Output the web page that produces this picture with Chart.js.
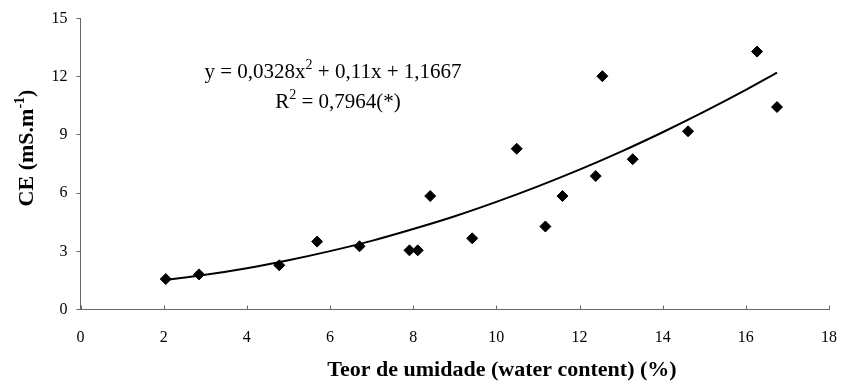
<!DOCTYPE html>
<html lang="pt-br">
<head>
<meta charset="UTF-8">
<title>CE x Teor de umidade</title>
<script src="https://cdn.jsdelivr.net/npm/chart.js"></script>
<style>
  html, body { margin: 0; padding: 0; background: #fff; }
</style>
</head>
<body>
<canvas id="grafico" width="856" height="385"></canvas>
<script>
// dados
const teorUmidade = [2.05, 2.85, 4.78, 5.69, 6.71, 7.91, 8.11, 8.41, 9.42, 10.49, 11.18, 11.59, 12.39, 12.55, 13.28, 14.61, 16.27, 16.75];
const condutividade = [1.57, 1.81, 2.28, 3.50, 3.26, 3.05, 3.05, 5.85, 3.67, 8.29, 4.28, 5.85, 6.88, 12.03, 7.75, 9.19, 13.30, 10.44];

// linha de tendência (polinomial)
const tendenciaX = [2.05, 3, 4, 5, 6, 7, 8, 9, 10, 11, 12, 13, 14, 15, 16, 16.75];
const tendenciaY = [1.53, 1.79, 2.13, 2.54, 3.01, 3.54, 4.15, 4.81, 5.55, 6.35, 7.21, 8.14, 9.14, 10.20, 11.32, 12.21];

const ticksX = [0, 2, 4, 6, 8, 10, 12, 14, 16, 18];
const ticksY = [0, 3, 6, 9, 12, 15];

const fonte = 'Liberation Serif';
const corEixo = '#666';

// pedaços de texto com sobrescrito
const equacao1 = [['y = 0,0328x'], ['2', true], [' + 0,11x + 1,1667']];
const equacao2 = [['R'], ['2', true], [' = 0,7964(*)']];
const tituloX = [['Teor de umidade (water content) (%)']];
const tituloY = [['CE (mS.m'], ['-1', true], [')']];

function textoRico(ctx, partes, cx, cy, tam, negrito) {
    const peso = negrito ? 'bold ' : '';
    const fNormal = peso + tam + 'px "' + fonte + '"';
    const fSup = peso + Math.round(tam * 0.65) + 'px "' + fonte + '"';
    let largura = 0;
    partes.forEach(p => {
        ctx.font = p[1] ? fSup : fNormal;
        largura += ctx.measureText(p[0]).width;
    });
    let x = cx - largura / 2;
    ctx.textAlign = 'left';
    ctx.textBaseline = 'alphabetic';
    const base = cy + tam * 0.33;
    partes.forEach(p => {
        ctx.font = p[1] ? fSup : fNormal;
        ctx.fillText(p[0], x, p[1] ? base - tam * 0.42 : base);
        x += ctx.measureText(p[0]).width;
    });
}

const extras = {
    id: 'extras',
    afterDraw(chart) {
        const { ctx, chartArea, scales: { x } } = chart;
        ctx.save();
        // marcas do eixo x voltadas para dentro
        ctx.strokeStyle = corEixo;
        ctx.lineWidth = 1;
        ticksX.forEach(v => {
            const px = Math.round(x.getPixelForValue(v)) + 0.5;
            ctx.beginPath();
            ctx.moveTo(px, chartArea.bottom);
            ctx.lineTo(px, chartArea.bottom - 4);
            ctx.stroke();
        });
        ctx.fillStyle = '#000';
        textoRico(ctx, equacao1, 333, 71, 21, false);
        textoRico(ctx, equacao2, 338, 101, 21, false);
        textoRico(ctx, tituloX, 502, 369, 22, true);
        ctx.translate(26, 148);
        ctx.rotate(-Math.PI / 2);
        textoRico(ctx, tituloY, 0, 0, 22, true);
        ctx.restore();
    }
};

Chart.defaults.font.family = fonte;
Chart.defaults.font.size = 16;
Chart.defaults.color = '#000';

new Chart(document.getElementById('grafico'), {
    type: 'scatter',
    data: {
        datasets: [{
            label: 'CE',
            data: teorUmidade.map((v, i) => ({ x: v, y: condutividade[i] })),
            pointStyle: 'rectRot',
            pointRadius: 5.5,
            backgroundColor: '#000',
            borderColor: '#000',
            borderWidth: 1,
            order: 1
        }, {
            label: 'Tendência',
            type: 'line',
            data: tendenciaX.map((v, i) => ({ x: v, y: tendenciaY[i] })),
            borderColor: '#000',
            borderWidth: 2,
            pointRadius: 0,
            fill: false,
            cubicInterpolationMode: 'monotone',
            order: 2
        }]
    },
    options: {
        responsive: false,
        animation: false,
        devicePixelRatio: 1,
        layout: { autoPadding: false, padding: { left: 0, right: 10.5, top: 14.5, bottom: 0 } },
        plugins: {
            legend: { display: false },
            tooltip: { enabled: false }
        },
        scales: {
            x: {
                type: 'linear',
                min: 0,
                max: 18,
                afterBuildTicks: s => { s.ticks = ticksX.map(v => ({ value: v })); },
                afterFit: s => { s.height = 75.5; },
                grid: { display: false, drawTicks: false },
                border: { color: corEixo, width: 1 },
                ticks: { padding: 19 }
            },
            y: {
                type: 'linear',
                min: 0,
                max: 15,
                afterBuildTicks: s => { s.ticks = ticksY.map(v => ({ value: v })); },
                afterFit: s => { s.width = 80.5; },
                grid: { drawOnChartArea: false, drawTicks: true, tickLength: 4, color: corEixo },
                border: { color: corEixo, width: 1 },
                ticks: { padding: 9 }
            }
        }
    },
    plugins: [extras]
});
</script>
</body>
</html>
